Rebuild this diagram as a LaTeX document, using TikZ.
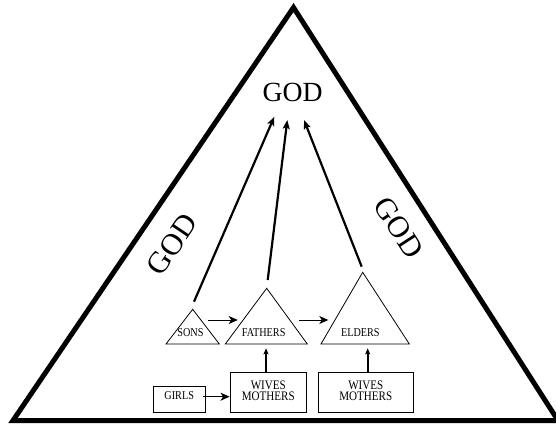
\documentclass[tikz,border=0pt]{standalone}
\usepackage{fontspec}
\setmainfont{Liberation Serif}
\usetikzlibrary{arrows.meta}
\newcommand{\cnd}[1]{\scalebox{0.85}[1]{#1}}
\begin{document}
\begin{tikzpicture}[x=1pt,y=-1pt,
  thinline/.style={line width=0.8pt},
  lbl/.style={inner sep=0pt, anchor=base, font=\fontsize{12}{12}\selectfont},
  box/.style={draw, line width=0.8pt, inner sep=0pt, align=center},
  godlbl/.style={inner sep=0pt, font=\fontsize{30.5}{31}\selectfont},
  bigarrow/.style={line width=2.2pt, -{Stealth[length=9pt,width=7pt,inset=2pt]}},
  midarrow/.style={line width=0.9pt, -{Stealth[length=9pt,width=8pt,inset=2.5pt]}},
  uparrow/.style={line width=2.2pt, -{Stealth[length=6pt,width=5pt,inset=1pt]}},
]
\useasboundingbox (0,0) rectangle (556,425);

% outer triangle
\draw[line width=5pt] (293.5,7.5) -- (13,420.5) -- (558,420.5) -- cycle;

% GOD labels
\node[inner sep=0pt, anchor=base, font=\fontsize{27.7}{28}\selectfont] (godtop) at (292.7,101.7) {GOD};
\node[godlbl, rotate=56] (godleft) at (172,244.5) {GOD};
\node[godlbl, rotate=-57] (godright) at (399.2,227.5) {GOD};

% small triangles
\coordinate (sonsTop) at (192.7,309.3);
\coordinate (fathersTop) at (266.7,288.3);
\coordinate (eldersTop) at (362.7,272.3);
\draw[thinline] (sonsTop) -- (166,344) -- (219.3,344) -- cycle;
\draw[thinline] (fathersTop) -- (225.3,344) -- (307.3,344) -- cycle;
\draw[thinline] (eldersTop) -- (321,344) -- (409.3,344) -- cycle;

\node[lbl] (sons) at (190.5,336.3) {\cnd{SONS}};
\node[lbl] (fathers) at (263.7,336.3) {\cnd{FATHERS}};
\node[lbl] (elders) at (360.3,336.3) {\cnd{ELDERS}};

% boxes
\node[box, minimum width=51.7pt, minimum height=26.7pt, text height=7.3pt, text depth=6pt,
      font=\fontsize{12}{12}\selectfont] (girls) at (179.2,399.3) {\cnd{GIRLS}};
\node[box, minimum width=76.7pt, minimum height=40pt] (w1) at (268.3,392.3)
  {\fontsize{13}{10}\selectfont\cnd{\begin{tabular}{@{}c@{}}WIVES\\MOTHERS\end{tabular}}};
\node[box, minimum width=95pt, minimum height=40pt] (w2) at (365.8,392.3)
  {\fontsize{13}{10}\selectfont\cnd{\begin{tabular}{@{}c@{}}WIVES\\MOTHERS\end{tabular}}};

% connector end points
\coordinate (sonsOut) at (208.3,320);
\coordinate (fathersIn) at (237.7,320);
\coordinate (fathersOut) at (299.3,320);
\coordinate (eldersIn) at (328.3,320);
\coordinate (girlsOut) at (203.3,396.7);
\coordinate (fathersBase) at (266,348.3);
\coordinate (eldersBase) at (367.7,348.3);
\coordinate (sonsUp) at (194,301.7);
\coordinate (fathersUp) at (267.7,280);
\coordinate (eldersUp) at (361.7,266.7);
\coordinate (godL) at (274.3,116.7);
\coordinate (godM) at (287.3,120);
\coordinate (godR) at (304,120);

% connectors
\draw[midarrow] (sonsOut) -- (fathersIn);
\draw[midarrow] (fathersOut) -- (eldersIn);
\draw[midarrow] (girlsOut) -- (w1.west |- girlsOut);
\draw[uparrow] (w1.north -| fathersBase) -- (fathersBase);
\draw[uparrow] (w2.north -| eldersBase) -- (eldersBase);
\draw[bigarrow] (sonsUp) -- (godL);
\draw[bigarrow] (fathersUp) -- (godM);
\draw[bigarrow] (eldersUp) -- (godR);
\end{tikzpicture}
\end{document}
